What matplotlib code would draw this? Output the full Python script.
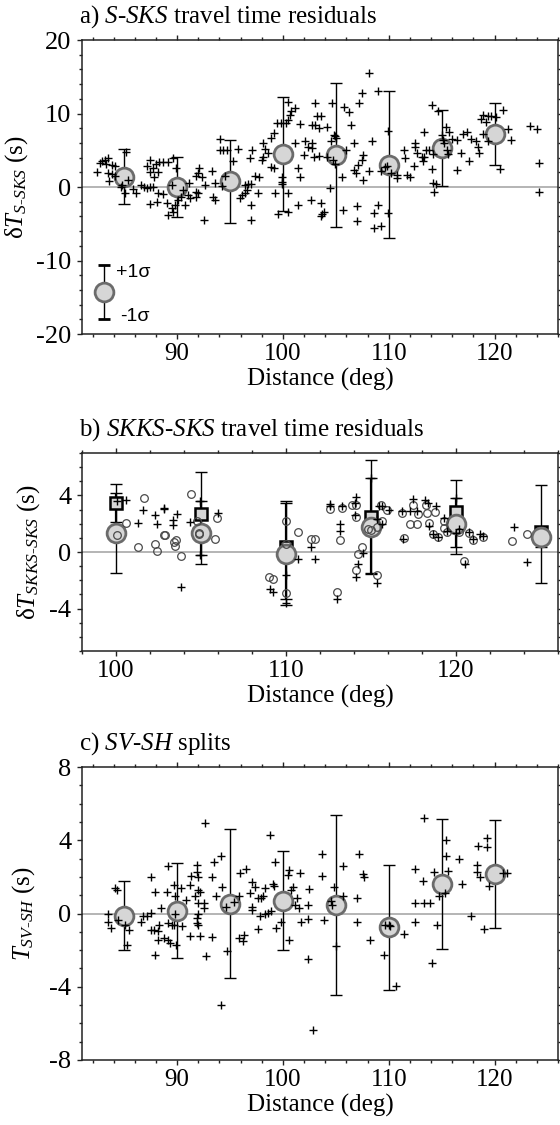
import matplotlib.pyplot as plt
from matplotlib.ticker import MultipleLocator

# ---- a) S-SKS residuals: individual picks ----
a_dist = [82.43, 82.68, 82.9, 83.15, 83.3, 83.47, 83.8, 84.1, 83.47, 83.8,
          84.1, 83.6, 84.8, 85.14, 85.36, 84.67, 85.05, 85.84, 86.1, 86.56,
          86.9, 87.16, 87.4, 87.7, 87.1, 87.4, 87.7, 88.0, 88.3, 88.7,
          89.1, 89.6, 89.87, 87.4, 87.8, 88.2, 87.4, 88.1, 88.2, 88.7,
          89.0, 89.15, 89.5, 89.6, 89.8, 90.1, 90.35, 90.57, 91.0, 91.2,
          89.5, 90.7, 91.1, 91.8, 91.8, 92.0, 92.1, 92.0, 92.3, 92.6,
          91.8, 92.55, 93.25, 93.4, 93.55, 93.55, 94.04, 94.04, 94.35, 94.67,
          95.77, 95.3, 94.5, 94.2, 96.4, 96.7, 97.0, 97.35, 97.7, 95.9,
          96.1, 96.4, 96.56, 97.0, 96.97, 97.6, 97.1, 96.9, 98.14, 98.3,
          98.6, 98.0, 98.14, 98.9, 99.2, 98.9, 99.2, 99.4, 99.8, 100.25,
          100.5, 100.5, 100.66, 100.8, 101.1, 101.6, 101.1, 99.9, 99.9, 99.9,
          99.24, 100.44, 99.5, 100.5, 101.4, 101.45, 101.6, 102.0, 102.7, 103.0,
          102.7, 103.0, 103.4, 102.1, 102.4, 102.7, 102.9, 102.65, 103.6, 104.2,
          104.6, 104.84, 104.9, 105.0, 104.5, 103.4, 104.2, 104.7, 104.9, 106.0,
          105.8, 106.26, 106.4, 106.7, 107.2, 107.5, 108.1, 109.0, 108.4, 107.6,
          107.5, 107.05, 106.7, 106.9, 108.15, 107.6, 105.6, 104.46, 103.6, 103.9,
          103.6, 103.7, 105.7, 107.0, 107.0, 109.0, 108.56, 108.56, 109.26, 109.95,
          109.95, 109.26, 109.6, 109.8, 110.2, 110.74, 110.74, 111.4, 111.5, 111.7,
          112.0, 112.4, 112.44, 112.5, 112.7, 113.1, 113.3, 113.36, 113.5, 113.2,
          113.8, 114.15, 114.1, 114.1, 114.15, 114.25, 114.5, 114.7, 115.0, 115.1,
          115.4, 115.7, 115.25, 115.5, 115.57, 116.0, 116.5, 116.5, 116.8, 117.0,
          117.4, 117.6, 117.8, 118.25, 118.4, 118.56, 118.7, 118.9, 119.35, 119.67,
          120.1, 118.9, 119.35, 119.2, 120.8, 121.3, 121.6, 120.55, 123.4, 124.0,
          124.24, 124.24, 103.25]
a_dt = [2.0, 3.23, 3.55, 3.7, 3.2, 3.9, 3.0, 2.9, 1.9, 1.8,
        1.55, 0.86, 0.27, 4.7, 0.95, 0.05, -0.86, -0.2, -0.86, 0.27,
        0.05, -0.1, 0.05, 0.05, 2.9, 3.7, 2.6, 3.2, 3.45, 3.45,
        3.45, 3.9, 2.55, 2.1, 1.3, 2.1, -2.36, -2.0, -0.86, -0.95,
        -2.2, -3.8, -2.9, -3.36, -2.45, -1.77, -1.4, -0.4, -1.1, -1.55,
        0.27, -2.45, 0.6, 1.5, -0.64, -0.86, 2.55, 1.86, 1.3, 0.27,
        -1.3, -4.5, 2.2, -1.3, -1.77, 0.5, 6.55, 5.05, 5.05, 5.05,
        5.2, 3.55, 1.5, 0.14, 0.27, 0.4, 0.4, 1.5, 1.4, -1.55,
        -1.1, -0.86, -0.4, -2.45, -4.5, -0.86, 5.05, 3.9, 5.95, 5.2,
        4.6, 3.7, 4.1, 2.77, 2.55, 6.7, 7.4, 8.7, 8.7, 8.7,
        11.6, 9.1, 9.8, 10.3, 10.7, 8.6, 5.95, 1.4, 0.73, 0.4,
        -0.86, -0.86, -3.7, -3.36, -2.45, 2.55, 1.4, 4.36, 5.95, 11.4,
        8.45, 8.45, 8.0, 6.2, 5.5, 5.3, 4.1, -1.77, 9.6, 8.2,
        11.5, 7.1, 6.9, 6.7, 6.2, 4.2, 4.1, 3.7, 3.2, 5.0,
        10.95, 10.2, 8.45, 5.95, 11.4, 12.8, 15.5, 13.1, 6.2, 4.36,
        3.7, 3.0, 2.3, 1.86, 2.2, 0.95, 1.3, -0.1, -2.2, -3.36,
        -3.95, -3.7, -3.1, -2.6, -4.6, -2.45, -3.6, -5.6, -5.3, -3.5,
        7.6, 2.2, 2.7, 2.9, 1.86, 1.2, 1.6, 5.05, 3.9, 1.7,
        1.3, 2.86, 5.95, 5.4, 4.6, 4.05, 4.05, 7.55, 5.1, 3.6,
        5.1, 4.5, 2.4, 11.2, 0.5, -0.64, 0.4, 10.4, 7.1, 6.4,
        8.2, 7.55, 5.95, 5.05, 4.5, 6.55, 6.4, 2.3, 4.6, 7.2,
        7.55, 3.6, 6.6, 6.2, 5.5, 4.6, 9.3, 9.8, 9.7, 9.6,
        9.5, 7.2, 6.3, 8.8, 10.5, 7.9, 6.4, 2.4, 8.3, 7.9,
        3.3, -0.64, 9.6]

# binned means and 1 sigma
a_bin = [85, 90, 95, 100, 105, 110, 115, 120]
a_mean = [1.4, 0.0, 0.77, 4.5, 4.36, 3.0, 5.27, 7.2]
a_sigma = [3.72, 4.05, 5.68, 7.7, 9.85, 10.0, 5.18, 4.22]

# ---- b) SKKS-SKS residuals ----
b_cross_dist = [100.08, 100.6, 101.6, 101.27, 102.3, 102.4, 102.8, 102.85, 103.37, 103.37,
                103.6, 103.8, 104.35, 104.94, 104.94, 106.0, 109.06, 109.25, 110.0, 110.0,
                110.72, 111.5, 111.7, 112.56, 112.56, 113.28, 113.2, 113.2, 113.0, 114.12,
                114.08, 114.06, 114.24, 114.1, 114.55, 115.0, 115.37, 115.5, 115.66, 115.66,
                115.37, 116.05, 116.84, 116.9, 117.5, 117.3, 117.7, 118.2, 118.36, 118.8,
                118.4, 118.65, 118.96, 119.28, 119.47, 120.0, 120.0, 120.15, 120.55, 120.74,
                121.0, 121.4, 121.6, 123.4, 124.16]
b_cross_dt = [3.6, 3.65, 2.96, 2.07, 2.6, 2.0, 3.06, 3.1, 2.3, 1.9,
              2.66, -2.5, 2.1, 3.6, -0.24, 2.78, -2.6, -2.8, -1.6, -3.6,
              -0.52, 0.38, -0.52, 3.43, 3.25, 3.25, 1.95, 1.5, -3.34, 3.9,
              3.48, 2.6, -0.87, -1.8, -0.05, 5.25, 2.35, 3.25, 3.25, 1.95,
              -2.2, 3.0, 2.9, 0.9, 3.76, 2.9, 2.9, 3.7, 3.5, 3.25,
              1.83, 1.3, 1.06, 2.42, 1.5, 1.36, 3.8, 1.6, -0.87, 1.4,
              0.9, 1.25, 1.13, 1.8, -0.68]
b_circ_dist = [101.65, 100.6, 100.04, 101.3, 102.3, 102.4, 102.8, 102.9, 103.4, 103.55,
               103.47, 103.8, 104.4, 104.75, 104.9, 104.9, 105.96, 105.8, 109.0, 109.25,
               110.0, 110.0, 110.0, 110.72, 111.46, 111.7, 112.56, 113.0, 113.2, 113.28,
               113.9, 114.1, 114.1, 114.24, 114.5, 114.1, 115.33, 114.8, 115.0, 115.37,
               115.57, 115.66, 115.96, 116.8, 116.93, 117.3, 117.7, 117.5, 117.77, 118.24,
               118.3, 118.4, 118.75, 118.63, 118.96, 119.28, 119.28, 119.47, 120.15, 120.5,
               120.74, 121.0, 121.56, 123.3, 124.16]
b_circ_dt = [3.8, 2.07, 1.2, 0.35, 0.6, 0.07, 1.2, 1.2, 0.7, 0.85,
             0.42, -0.28, 4.07, 2.2, 1.36, 1.25, 2.38, 0.94, -1.8, -1.93,
             2.2, -2.87, 0.55, 1.44, 0.94, 0.94, 3.06, -2.8, 0.82, 3.13,
             3.36, 3.3, 2.47, -0.16, 0.38, -1.27, -1.6, 1.65, 1.55, 1.8,
             3.36, 2.19, 2.96, 2.73, 0.96, 1.95, 1.95, 3.36, 2.66, 3.36,
             2.73, 2.07, 2.82, 1.3, 1.06, 2.19, 1.72, 1.41, 1.41, -0.64,
             1.36, 0.85, 1.08, 0.78, 1.3]

b_bin = [100, 105, 110, 115, 120, 125]
b_mean_circ = [1.36, 1.36, -0.16, 1.8, 1.95, 1.08]
b_mean_sq = [3.45, 2.7, 0.35, 2.5, 2.8, 1.45]
b_outer_lo = [-1.46, -0.87, -3.76, -1.58, -0.16, -2.2]
b_outer_hi = [4.78, 5.67, 3.6, 6.5, 5.1, 4.73]
b_inner_lo = [2.1, -0.24, -3.3, -1.46, 0.38, 0.35]
b_inner_hi = [4.2, 3.6, 3.5, 5.2, 3.8, 1.8]

# ---- c) SV-SH splits ----
c_dist = [83.43, 83.43, 83.76, 84.1, 84.27, 84.44, 85.1, 85.4, 85.3, 86.6,
          86.8, 87.1, 87.5, 87.5, 87.5, 87.8, 87.9, 87.9, 88.15, 88.15,
          88.3, 88.5, 88.8, 89.0, 89.1, 89.16, 89.16, 89.3, 89.5, 89.66,
          89.66, 89.83, 89.9, 89.83, 90.34, 90.5, 90.84, 91.18, 91.18, 91.35,
          91.7, 91.85, 91.85, 91.85, 91.85, 91.95, 92.0, 92.0, 92.0, 92.0,
          92.2, 92.2, 92.5, 92.5, 92.6, 92.7, 93.27, 93.3, 93.5, 94.1,
          94.28, 93.7, 94.6, 94.1, 94.7, 95.4, 95.8, 95.8, 96.2, 96.3,
          95.9, 96.5, 96.9, 97.08, 97.08, 97.08, 97.4, 97.65, 97.65, 97.9,
          98.1, 98.26, 98.26, 97.85, 98.6, 98.9, 98.8, 99.1, 99.2, 99.27,
          99.33, 99.77, 100.45, 100.55, 100.6, 100.78, 100.95, 101.1, 101.3, 101.56,
          101.7, 101.63, 102.37, 102.37, 102.47, 102.37, 102.8, 103.65, 103.65, 103.92,
          104.5, 104.66, 104.83, 105.0, 105.67, 105.67, 107.0, 107.0, 107.2, 107.6,
          107.7, 108.2, 109.55, 109.65, 110.05, 110.1, 110.66, 111.47, 112.48, 112.48,
          112.48, 113.25, 113.36, 113.93, 113.36, 114.1, 114.27, 114.6, 114.77, 115.28,
          115.45, 115.45, 115.6, 116.6, 116.9, 117.8, 118.3, 118.48, 118.3, 118.6,
          119.0, 119.3, 119.3, 119.5, 120.84, 121.18]
c_dt = [0.0, -0.44, -0.8, 1.38, 1.29, -0.34, -0.62, -0.9, -1.7, -0.44,
        -0.16, -0.16, 0.02, 2.0, -0.9, -0.9, 1.2, -2.25, -0.98, -1.43,
        -0.62, 0.29, -1.34, 1.2, -1.43, 2.6, -0.53, -1.6, -0.62, 1.56,
        -0.62, 0.93, -1.7, 0.0, 1.38, -0.7, 0.74, 1.56, -1.25, 2.05,
        0.93, 2.65, 2.29, -0.25, -0.53, 2.0, 1.29, 0.56, 0.0, -0.62,
        1.2, -1.25, 0.56, 0.29, 4.95, -2.34, 1.98, -1.29, 2.83, 3.14,
        1.43, 0.96, 0.33, -5.0, -2.07, 0.65, 0.93, -1.34, -1.52, -1.16,
        2.23, 2.41, 1.1, 1.74, 0.2, 0.35, 1.47, 0.83, -0.85, 0.83,
        0.93, 1.38, 0.0, -0.16, 0.05, 0.11, 4.28, 1.6, 1.5, 2.83,
        -0.8, -0.49, 2.1, 2.38, -1.43, 1.29, 1.47, 0.47, 0.83, 0.29,
        -0.44, 2.23, 0.47, -0.31, 1.32, -2.49, -6.39, 3.23, 2.05, -0.38,
        0.71, 0.47, 1.47, -1.76, 2.6, 0.93, 0.83, -0.49, 3.25, 2.16,
        1.98, -1.43, -2.29, -0.62, -0.62, -0.7, -3.97, -1.11, 2.41, 0.56,
        -0.44, 1.78, 0.56, 0.56, 5.19, -2.7, 2.29, -0.62, 0.96, 1.1,
        4.0, 3.14, 2.34, 2.96, 1.6, -0.13, 2.65, 3.68, 2.29, 2.0,
        -0.85, 4.1, 3.65, 1.5, 2.2, 2.23]

c_bin = [85, 90, 95, 100, 105, 110, 115, 120]
c_mean = [-0.13, 0.16, 0.53, 0.71, 0.47, -0.76, 1.6, 2.16]
c_sigma = [1.88, 2.6, 4.08, 2.68, 4.9, 3.4, 3.54, 2.93]

SERIF = 'Liberation Serif'
FACE = '#d6d6d6'
EDGE = '#6b6b6b'
SPINE = '#222222'

plt.rcParams.update({
    'font.family': SERIF,
    'font.size': 18,
    'mathtext.fontset': 'custom',
    'mathtext.rm': SERIF,
    'mathtext.it': SERIF + ':italic',
    'mathtext.bf': SERIF + ':bold',
    'axes.unicode_minus': False,
    'axes.linewidth': 1.1,
    'axes.edgecolor': SPINE,
})


def style_axis(ax, xlim, ylim, xmaj, xmin, ymaj, ymin):
    ax.set_xlim(*xlim)
    ax.set_ylim(*ylim)
    ax.xaxis.set_major_locator(MultipleLocator(xmaj))
    ax.xaxis.set_minor_locator(MultipleLocator(xmin))
    ax.yaxis.set_major_locator(MultipleLocator(ymaj))
    ax.yaxis.set_minor_locator(MultipleLocator(ymin))
    ax.tick_params(which='both', direction='out', top=True, right=True,
                   color=SPINE, width=1.0)
    ax.tick_params(which='major', length=3.8)
    ax.tick_params(which='minor', length=2.0)
    ax.tick_params(axis='x', pad=3)
    ax.tick_params(axis='y', pad=4, labelsize=19)
    ax.axhline(0, color='#a8a8a8', lw=1.2, zorder=1)
    ax.set_xlabel('Distance (deg)', labelpad=2)


def panel_title(ax, txt):
    ax.annotate(txt, xy=(0, 1), xycoords='axes fraction', xytext=(-2, 12.5),
                textcoords='offset points', ha='left', va='baseline', fontsize=18)


def draw_bins(ax, x, mean, sigma):
    ax.errorbar(x, mean, yerr=sigma, fmt='none', ecolor='black', elinewidth=1.0,
                capsize=4, capthick=1.0, zorder=2)
    ax.plot(x, mean, 'o', ms=13.5, mfc=FACE, mec=EDGE, mew=2.0, ls='none', zorder=3)


fig = plt.figure(figsize=(5.6, 11.25), dpi=100)
ax_a = fig.add_axes([0.1464, 0.7031, 0.85, 0.2613])
ax_b = fig.add_axes([0.1464, 0.4213, 0.85, 0.1760])
ax_c = fig.add_axes([0.1464, 0.0578, 0.85, 0.2604])

# a)
style_axis(ax_a, (81, 126), (-20, 20), 10, 2, 10, 2)
draw_bins(ax_a, a_bin, a_mean, a_sigma)
ax_a.plot(a_dist, a_dt, '+', color='black', ms=6, mew=1.0, zorder=4)
# sigma key
ax_a.errorbar([83.1], [-14.3], yerr=[3.7], fmt='o', ms=13.5, mfc=FACE, mec=EDGE,
              mew=2.0, ecolor='black', elinewidth=1.0, capsize=4, capthick=1.0, zorder=3)
ax_a.text(84.2, -11.6, '+1σ', family='Liberation Sans', fontsize=14, va='center')
ax_a.text(84.6, -17.6, '-1σ', family='Liberation Sans', fontsize=14, va='center')
ax_a.set_ylabel(r'δ$T_{S\text{-}SKS}$ (s)', labelpad=4)
panel_title(ax_a, r'a) $S\text{-}SKS$ travel time residuals')

# b)
style_axis(ax_b, (98, 126), (-7, 7), 10, 2, 4, 1)
lo = [m - l for m, l in zip(b_mean_circ, b_outer_lo)]
hi = [h - m for m, h in zip(b_mean_circ, b_outer_hi)]
ax_b.errorbar(b_bin, b_mean_circ, yerr=[lo, hi], fmt='none', ecolor='black',
              elinewidth=1.0, capsize=4, capthick=1.0, zorder=2)
lo = [m - l for m, l in zip(b_mean_sq, b_inner_lo)]
hi = [h - m for m, h in zip(b_mean_sq, b_inner_hi)]
ax_b.errorbar(b_bin, b_mean_sq, yerr=[lo, hi], fmt='none', ecolor='black',
              elinewidth=1.6, capsize=4, capthick=1.0, zorder=2)
ax_b.plot(b_bin, b_mean_sq, 's', ms=9, mfc=FACE, mec='black', mew=1.8, zorder=3)
ax_b.plot(b_bin, b_mean_circ, 'o', ms=13.5, mfc=FACE, mec=EDGE, mew=2.0, zorder=3)
ax_b.plot(b_circ_dist, b_circ_dt, 'o', ms=5.5, mfc='none', mec='#4a4a4a', mew=0.9, zorder=4)
ax_b.plot(b_cross_dist, b_cross_dt, '+', color='black', ms=6, mew=1.0, zorder=4)
ax_b.set_ylabel(r'δ$T_{SKKS\text{-}SKS}$ (s)', labelpad=5)
panel_title(ax_b, r'b) $SKKS\text{-}SKS$ travel time residuals')

# c)
style_axis(ax_c, (81, 126), (-8, 8), 10, 2, 4, 1)
draw_bins(ax_c, c_bin, c_mean, c_sigma)
ax_c.plot(c_dist, c_dt, '+', color='black', ms=6, mew=1.0, zorder=4)
ax_c.set_ylabel(r'$T_{SV\text{-}SH}$ (s)', labelpad=9)
panel_title(ax_c, r'c) $SV\text{-}SH$ splits')

fig.savefig('out.png', dpi=100)
